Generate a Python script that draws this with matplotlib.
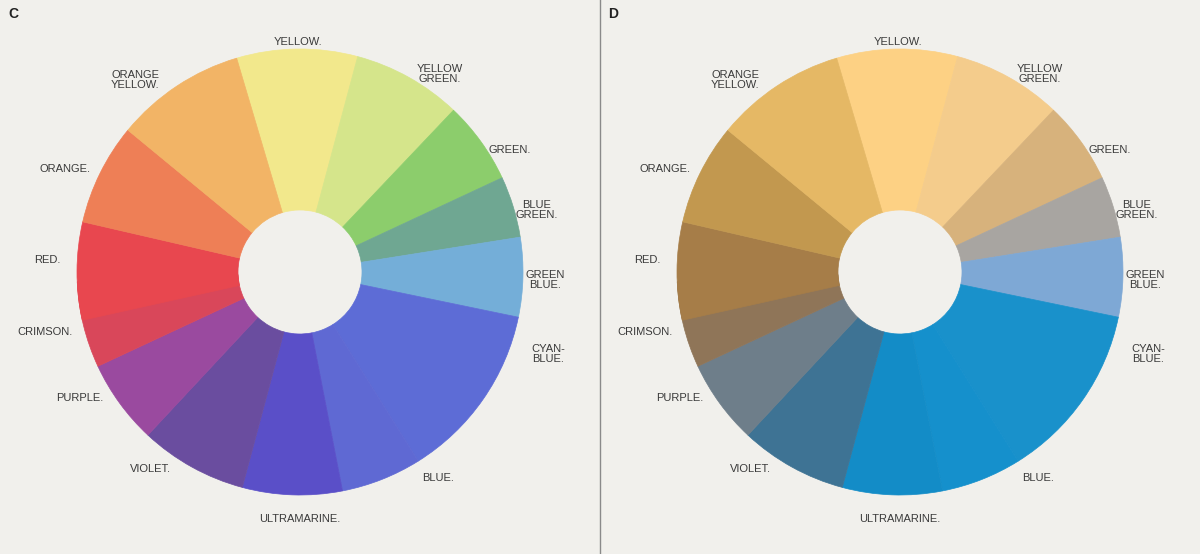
import matplotlib.pyplot as plt
from matplotlib.patches import Wedge

names = ["YELLOW.", "YELLOW\nGREEN.", "GREEN.", "BLUE\nGREEN.", "GREEN\nBLUE.",
         "CYAN-\nBLUE.", "BLUE.", "ULTRAMARINE.", "VIOLET.", "PURPLE.",
         "CRIMSON.", "RED.", "ORANGE.", "ORANGE\nYELLOW."]
# wedge boundaries in degrees (counter-clockwise start, end)
starts = [75, 46.5, 25, 9, -11.7, -58, -79, -105, -133, -155, -177.5, 167, 140.5, 106.5]
ends = [106.5, 75, 46.5, 25, 9, -11.7, -58, -79, -105, -133, -155, 192.5, 167, 140.5]
colors_c = ["#f2e88c", "#d5e58b", "#8ccd6c", "#6fa792", "#74aed8", "#5d6cd6", "#5f69d3",
            "#5a4fc8", "#6a4d9f", "#9a4a9f", "#d9475a", "#e8474f", "#ee7f56", "#f2b466"]
colors_d = ["#fdd184", "#f4cc8c", "#d7b27c", "#a8a5a1", "#7ea8d5", "#1991cb", "#1590cc",
            "#138cc7", "#3e7394", "#6e7e8a", "#8f7558", "#a67d48", "#c2984f", "#e5b865"]
# label offsets from wheel centre (pixels)
label_dx = [-2, 140, 210, 237, 245, 248, 138, 0, -150, -220, -255, -253, -235, -165]
label_dy = [-230, -198, -122, -62, 8, 82, 206, 247, 197, 126, 60, -12, -103, -192]

BG = "#f1f0ec"
fig = plt.figure(figsize=(12, 5.54), dpi=100, facecolor=BG)
ax = fig.add_axes([0, 0, 1, 1])
ax.set_xlim(0, 1200)
ax.set_ylim(554, 0)
ax.set_aspect("equal")
ax.axis("off")

for cx, cols, tag in [(300, colors_c, "C"), (900, colors_d, "D")]:
    cy = 272
    for s, e, c in zip(starts, ends, cols):
        # y axis inverted: negate angles
        ax.add_patch(Wedge((cx, cy), 223, -e, -s, width=161, facecolor=c, edgecolor=c, lw=0.5))
    for n, dx, dy in zip(names, label_dx, label_dy):
        ax.text(cx + dx, cy + dy, n, ha="center", va="center", fontsize=8,
                color="#3a3a3a", family="Liberation Sans", linespacing=1.0)
    ax.text(cx - 292, 14, tag, fontsize=10, fontweight="bold", color="#222",
            ha="left", va="center", family="Liberation Sans")

ax.plot([600, 600], [0, 554], color="#8a8a8a", lw=1.0)
fig.savefig("out.png", dpi=100, facecolor=BG)
